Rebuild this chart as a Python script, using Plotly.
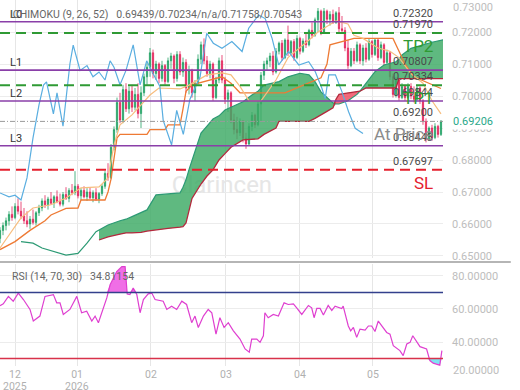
import plotly.graph_objects as go
import numpy as np

# ---------------- data ----------------
bar_open = [.6555,.6580,.6595,.6610,.6630,.6620,.6655,.6640,.6625,.6610,.6600,.6615,.6605,.6635,.6650,.6672,.6660,.6678,.6665,.6685,
            .6670,.6662,.6692,.6680,.6705,.6698,.6718,.6688,.6705,.6685,.6700,.6682,.6698,.6678,.6695,.6718,.6758,.6745,.6840,.6895,
            .6980,.6925,.7020,.6960,.7015,.6965,.7005,.6945,.7010,.7060,.7090,.7135,.7070,.7100,.7055,.7095,.7045,.7110,.7125,.7055,
            .7130,.7075,.7105,.7025,.7080,.7010,.7040,.7115,.7160,.7110,.7070,.7100,.6995,.7050,.7110,.7050,.6990,.7010,.6925,.6895,
            .6885,.6920,.6868,.6850,.6905,.6940,.6910,.6975,.7065,.7100,.7110,.7125,.7075,.7140,.7165,.7120,.7175,.7135,.7170,.7120,
            .7180,.7140,.7172,.7160,.7205,.7190,.7238,.7265,.7200,.7265,.7240,.7255,.7230,.7260,.7210,.7205,.7150,.7095,.7140,.7110,
            .7160,.7110,.7150,.7115,.7170,.7130,.7175,.7120,.7160,.7105,.7135,.7060,.7005,.7050,.6995,.7030,.6995,.7030,.7000,.6990,
            .7025,.6985,.6920,.6865,.6900,.6870,.6905,.6880]
bar_high = [.6590,.6605,.6620,.6640,.6655,.6665,.6680,.6670,.6650,.6640,.6625,.6645,.6640,.6660,.6680,.6690,.6685,.6700,.6690,.6705,
            .6695,.6700,.6715,.6712,.6725,.6765,.6725,.6712,.6718,.6712,.6715,.6705,.6712,.6700,.6725,.6765,.6790,.6850,.6905,.6995,
            .7010,.7035,.7040,.7030,.7035,.7025,.7040,.7030,.7070,.7105,.7150,.7145,.7110,.7105,.7110,.7100,.7120,.7135,.7130,.7140,
            .7140,.7120,.7115,.7095,.7085,.7050,.7130,.7170,.7180,.7125,.7110,.7105,.7060,.7120,.7128,.7060,.7020,.7015,.6945,.6935,
            .6930,.6925,.6885,.6915,.6950,.6945,.6985,.7075,.7110,.7120,.7135,.7140,.7150,.7170,.7175,.7180,.7220,.7175,.7178,.7190,
            .7185,.7180,.7200,.7210,.7230,.7245,.7275,.7270,.7275,.7270,.7265,.7270,.7265,.7278,.7250,.7215,.7175,.7150,.7150,.7170,
            .7165,.7160,.7165,.7180,.7175,.7180,.7180,.7170,.7165,.7145,.7140,.7070,.7060,.7055,.7040,.7035,.7040,.7040,.7030,.7035,
            .7030,.6990,.6930,.6905,.6910,.6915,.6910,.6925]
bar_low = [.6540,.6565,.6580,.6595,.6610,.6615,.6630,.6615,.6600,.6590,.6585,.6598,.6595,.6625,.6640,.6650,.6645,.6660,.6650,.6665,
           .6655,.6655,.6675,.6668,.6690,.6690,.6680,.6675,.6680,.6672,.6678,.6668,.6672,.6665,.6688,.6710,.6735,.6740,.6830,.6885,
           .6915,.6915,.6950,.6945,.6950,.6955,.6930,.6900,.7000,.7035,.7060,.7055,.7050,.7040,.7045,.7035,.7040,.7085,.7040,.7045,
           .7065,.7060,.7010,.7005,.6995,.6985,.7035,.7100,.7100,.7060,.7055,.6985,.6990,.7040,.7040,.6975,.6950,.6915,.6880,.6865,
           .6875,.6855,.6835,.6845,.6890,.6900,.6905,.6920,.7050,.7080,.7090,.7065,.7070,.7130,.7110,.7115,.7125,.7130,.7110,.7115,
           .7130,.7135,.7150,.7155,.7180,.7185,.7200,.7190,.7195,.7225,.7220,.7225,.7225,.7200,.7195,.7140,.7085,.7090,.7100,.7105,
           .7100,.7095,.7105,.7110,.7120,.7125,.7110,.7115,.7095,.7100,.7050,.6995,.6995,.6985,.6990,.6985,.6990,.6990,.6980,.6985,
           .6975,.6910,.6855,.6860,.6860,.6865,.6870,.6875]
bar_close = [.6580,.6595,.6610,.6630,.6620,.6655,.6640,.6625,.6610,.6600,.6615,.6605,.6635,.6650,.6672,.6660,.6678,.6665,.6685,.6670,
             .6662,.6692,.6680,.6705,.6698,.6718,.6688,.6705,.6685,.6700,.6682,.6698,.6678,.6695,.6718,.6758,.6745,.6840,.6895,.6980,
             .6925,.7020,.6960,.7015,.6965,.7005,.6945,.7010,.7060,.7090,.7135,.7070,.7100,.7055,.7095,.7045,.7110,.7125,.7055,.7130,
             .7075,.7105,.7025,.7080,.7010,.7040,.7115,.7160,.7110,.7070,.7100,.6995,.7050,.7110,.7050,.6990,.7010,.6925,.6895,.6885,
             .6920,.6868,.6850,.6905,.6940,.6910,.6975,.7065,.7100,.7110,.7125,.7075,.7140,.7165,.7120,.7175,.7135,.7170,.7120,.7180,
             .7140,.7172,.7160,.7205,.7190,.7238,.7265,.7200,.7265,.7240,.7255,.7230,.7260,.7210,.7205,.7150,.7095,.7140,.7110,.7160,
             .7110,.7150,.7115,.7170,.7130,.7175,.7120,.7160,.7105,.7135,.7060,.7005,.7050,.6995,.7030,.6995,.7030,.7000,.6990,.7025,
             .6985,.6920,.6865,.6900,.6870,.6905,.6880,.69206]

tenkan_x = [0, 3, 7, 11, 17, 22, 27, 33, 36, 38, 40, 44, 47, 50, 53, 60, 63, 69, 74, 77, 80, 83, 87, 89, 92, 96, 100, 103, 106, 112, 116, 118, 121, 126, 130, 133, 137, 141, 144, 147]
tenkan_v = [.6525,.6566,.6619,.6650,.6660,.6681,.6713,.6716,.6744,.6847,.6910,.6941,.6972,.7003,.7025,.7022,.7034,.7066,.7072,.7066,
            .7030,.6985,.6985,.7010,.7050,.7120,.7150,.7175,.7200,.7235,.7225,.7190,.7180,.7150,.7140,.7120,.7070,.7040,.6985,.69439]

kijun_x = [0, 5, 10, 15, 17, 22, 26, 27, 35, 36, 37, 38, 39, 40, 49, 50, 55, 56, 60, 61, 62, 64, 70, 74, 77, 80, 95, 100, 107, 109, 110, 118, 131, 133, 135, 138, 147]
kijun_v = [.6520,.6545,.6580,.6610,.6628,.6649,.6650,.6675,.6675,.6700,.6740,.6800,.6869,.6880,.6880,.6895,.6895,.6910,.6910,.6960,
           .7015,.7035,.7050,.7060,.7040,.7010,.7010,.7030,.7057,.7100,.7160,.7180,.7180,.7140,.7100,.7060,.70234]

chikou_x = [0, 3, 5, 7, 9, 11, 13, 14.5, 15.5, 17.8, 19, 21, 23.3, 24.4, 26.7, 29, 31, 33, 35, 36.7, 38, 40, 42, 44.4, 46.7, 48.9, 51, 53.3,
            54.4, 57.2, 58.9, 61.1, 63.3, 66.7, 68.9, 71.1, 74, 77.3, 80.7, 82.9, 86.2, 88.4, 90.7, 92.9, 96.2, 99.6, 102.9, 105.1, 107.3,
            108.4, 109.6, 111.8, 114, 116.2, 118.4, 121]
chikou_v = [.6697,.6685,.6690,.6675,.6744,.6869,.6972,.7034,.7044,.6944,.7010,.6906,.7100,.7159,.7080,.7095,.7060,.7075,.7050,.7110,
            .7090,.7035,.7080,.7160,.7035,.7110,.7070,.7030,.6924,.6847,.6955,.6880,.6990,.7060,.7196,.7165,.7149,.7170,.7139,.7212,
            .7253,.7242,.7180,.7097,.7139,.7097,.7107,.7076,.7024,.6992,.7066,.7066,.7013,.6951,.6899,.6883]

span_a_lead_x = [7, 11, 14, 18, 22, 26, 29, 32, 33]
span_a_lead_v = [.6545,.6540,.6525,.6514,.6503,.6508,.6540,.6576,.6581]

cloud_x = [33, 36, 40, 42, 44, 47, 49, 52, 56, 60, 61, 62, 63, 64, 67, 69, 71, 73, 75, 77, 81, 84, 86, 88, 92, 93, 96, 100, 103, 105,
           107, 109, 111, 112, 113, 116, 119, 120, 122, 125, 128, 132, 133, 134, 137, 141, 144, 147.7]
span_a = [.6581,.6597,.6610,.6615,.6623,.6635,.6644,.6691,.6694,.6697,.6715,.6738,.6770,.6800,.6884,.6906,.6928,.6938,.6956,.6965,
          .6982,.7003,.7015,.7034,.7042,.7045,.7060,.7071,.7066,.7045,.7013,.6995,.6978,.6975,.6975,.6985,.7005,.7015,.7040,.7076,
          .7097,.7107,.7115,.7128,.7149,.7160,.7168,.71758]
span_b = [.6550,.6560,.6568,.6572,.6572,.6574,.6578,.6582,.6586,.6590,.6592,.6603,.6640,.6680,.6725,.6750,.6769,.6800,.6820,.6840,
          .6863,.6866,.6866,.6880,.6900,.6921,.6921,.6921,.6921,.6930,.6940,.6952,.6963,.6990,.7005,.7010,.7013,.7015,.7025,.7025,
          .7025,.7025,.70543,.70543,.70543,.70543,.70543,.70543]

rsi_x = [0, 1.1, 2.8, 4.4, 6.1, 7.8, 10, 11.1, 13.3, 15, 17.8, 18.9, 20, 21.1, 23.3, 25.6, 27.2, 28.9, 30.6, 31.7, 32.8, 35.6, 36.7,
         38.9, 40.6, 41.7, 42.4, 43.3, 44.4, 45.6, 46.7, 47.8, 49.4, 50.6, 51.7, 54.4, 55.6, 57.2, 58.9, 60.6, 62.2, 63.9, 65, 66.1,
         67.8, 69.4, 70.6, 72, 73.3, 74.7, 76.1, 77.8, 80, 81.7, 83.1, 83.9, 85.6, 86.7, 87.8, 88.3, 89.4, 91.1, 92.8, 94.7, 96.1,
         97.8, 98.9, 100.6, 102.8, 103.9, 104.7, 105.6, 106.7, 107.8, 109.4, 110.6, 111.7, 113.9, 114.4, 116.1, 116.9, 117.8, 118.9,
         120, 121.7, 122.8, 123.9, 125, 126.1, 127.2, 128.9, 130, 131.1, 133.3, 134.4, 135.6, 136.7, 137.6, 138.9, 140, 142.2, 143.3,
         144.4, 145.6, 146.6, 147.3]
rsi_v = [62.0, 63.1, 67.6, 64.7, 69.6, 65.7, 59.7, 52.7, 55.7, 67.6, 68.7, 63.7, 63.7, 56.7, 59.7, 67.6, 57.7, 58.7, 52.7, 55.7, 51.7,
         66.7, 74.6, 82.6, 85.6, 85.6, 69.1, 68.7, 72.6, 68.7, 57.7, 65.7, 69.1, 69.6, 65.7, 64.7, 59.7, 61.7, 59.7, 64.7, 62.7, 51.7,
         55.7, 48.8, 55.7, 59.7, 57.7, 44.8, 54.7, 48.8, 51.7, 46.8, 41.8, 35.8, 33.8, 41.8, 41.8, 39.8, 43.8, 57.7, 54.7, 56.7, 55.7,
         63.7, 62.7, 63.1, 60.7, 56.7, 62.1, 60.7, 54.7, 60.3, 60.3, 56.3, 62.1, 59.1, 61.7, 60.3, 61.7, 49.7, 46.8, 48.8, 42.8, 47.8,
         47.2, 49.7, 49.7, 46.4, 52.7, 49.7, 45.8, 44.8, 37.8, 34.8, 31.8, 38.8, 39.8, 43.8, 39.8, 37.2, 35.8, 28.8, 27.2, 26.8, 26.0,
         34.81154]

level_names = ["L0", "L1", "L2", "L3"]
level_values = [0.72320, 0.70807, 0.69844, 0.68443]
tp_names = ["TP2", "TP1"]
tp_values = [0.71970, 0.70334]
sl_value = 0.67697
at_price_value = 0.69206
at_price_label = "0.69200"

month_pos = [5, 25.7, 50.3, 75.3, 100, 124.3]
month_text = ["12", "01", "02", "03", "04", "05"]
year_pos = [5, 25.7]
year_text = ["2025", "2026"]
price_ticks = [0.65, 0.66, 0.67, 0.68, 0.69, 0.70, 0.71, 0.72]
rsi_ticks = [40, 60, 80]

# ---------------- colours ----------------
PURPLE = "#8a3fa8"
GREEN_DASH = "#2f9a34"
RED_DASH = "#e5202e"
GREY_TXT = "#bdbdbd"

fig = go.Figure()

# watermark (behind everything)
fig.add_trace(go.Scatter(x=[74], y=[0.6715], mode="text", text=["Clarincen"],
                         textfont=dict(size=24, color="#e6e6e6", family="Roboto"),
                         hoverinfo="skip", xaxis="x", yaxis="y"))

# cloud
a = np.array(span_a); b = np.array(span_b)
fig.add_trace(go.Scatter(x=cloud_x, y=b, mode="lines", line=dict(width=0), hoverinfo="skip"))
fig.add_trace(go.Scatter(x=cloud_x, y=np.maximum(a, b), mode="lines", line=dict(width=0),
                         fill="tonexty", fillcolor="rgba(60,170,100,0.82)", hoverinfo="skip"))
fig.add_trace(go.Scatter(x=cloud_x, y=b, mode="lines", line=dict(width=0), hoverinfo="skip"))
fig.add_trace(go.Scatter(x=cloud_x, y=np.minimum(a, b), mode="lines", line=dict(width=0),
                         fill="tonexty", fillcolor="rgba(240,80,100,0.85)", hoverinfo="skip"))
fig.add_trace(go.Scatter(x=span_a_lead_x + cloud_x[1:], y=span_a_lead_v + span_a[1:], mode="lines",
                         line=dict(color="#2c9a74", width=1.2), hoverinfo="skip"))
fig.add_trace(go.Scatter(x=cloud_x, y=span_b, mode="lines", line=dict(color="#b3283c", width=1.3), hoverinfo="skip"))

# candles
fig.add_trace(go.Candlestick(x=list(range(len(bar_close))), open=bar_open, high=bar_high, low=bar_low, close=bar_close,
                             increasing=dict(line=dict(color="#23a266", width=0.8), fillcolor="#23a266"),
                             decreasing=dict(line=dict(color="#e3245c", width=0.8), fillcolor="#e3245c"),
                             whiskerwidth=0, hoverinfo="skip"))

# ichimoku lines
fig.add_trace(go.Scatter(x=kijun_x, y=kijun_v, mode="lines", line=dict(color="#ee7a34", width=1.3), hoverinfo="skip"))
fig.add_trace(go.Scatter(x=tenkan_x, y=tenkan_v, mode="lines", line=dict(color="#f7bd7e", width=1.2), hoverinfo="skip"))
fig.add_trace(go.Scatter(x=chikou_x, y=chikou_v, mode="lines", line=dict(color="#5aaee0", width=1.2), hoverinfo="skip"))

# RSI
r = np.array(rsi_v)
fig.add_trace(go.Scatter(x=rsi_x, y=[70] * len(rsi_x), mode="lines", line=dict(width=0), yaxis="y2", hoverinfo="skip"))
fig.add_trace(go.Scatter(x=rsi_x, y=np.maximum(r, 70), mode="lines", line=dict(width=0), fill="tonexty",
                         fillcolor="#f06ee6", yaxis="y2", hoverinfo="skip"))
fig.add_trace(go.Scatter(x=rsi_x, y=[30] * len(rsi_x), mode="lines", line=dict(width=0), yaxis="y2", hoverinfo="skip"))
fig.add_trace(go.Scatter(x=rsi_x, y=np.minimum(r, 30), mode="lines", line=dict(width=0), fill="tonexty",
                         fillcolor="#7fe3f2", yaxis="y2", hoverinfo="skip"))
fig.add_trace(go.Scatter(x=rsi_x, y=rsi_v, mode="lines", line=dict(color="#df3fd0", width=1.2), yaxis="y2", hoverinfo="skip"))

shapes = []
for v in level_values:
    shapes.append(dict(type="line", xref="paper", x0=0, x1=1, yref="y", y0=v, y1=v, line=dict(color=PURPLE, width=1.6)))
for v in tp_values:
    shapes.append(dict(type="line", xref="paper", x0=0, x1=1, yref="y", y0=v, y1=v,
                       line=dict(color=GREEN_DASH, width=2, dash="10px,6px")))
shapes.append(dict(type="line", xref="paper", x0=0, x1=1, yref="y", y0=sl_value, y1=sl_value,
                   line=dict(color=RED_DASH, width=2, dash="10px,6px")))
shapes.append(dict(type="line", xref="paper", x0=0, x1=1, yref="y", y0=at_price_value, y1=at_price_value,
                   line=dict(color="#9a9a9a", width=1, dash="5px,2px,1px,2px")))
shapes.append(dict(type="line", xref="paper", x0=0, x1=1, yref="y2", y0=70, y1=70, line=dict(color="#33408c", width=1.5)))
shapes.append(dict(type="line", xref="paper", x0=0, x1=1, yref="y2", y0=30, y1=30, line=dict(color="#d8324a", width=1.5)))
# panel separator
shapes.append(dict(type="line", xref="paper", x0=0, x1=1.153, yref="paper", y0=0.2842, y1=0.2842,
                   line=dict(color="#9c9c9c", width=1.3)))

ann = []
NUMF = dict(size=11, color="#4a4a4a", family="Roboto")
BIGF = 17
lab_x = 0.982
for name, v in zip(level_names, level_values):
    ann.append(dict(x=0.018, xref="paper", y=v, yref="y", text=name, showarrow=False, xanchor="left", yanchor="bottom",
                    yshift=-1, font=dict(size=11, color="#333", family="Roboto")))
# numbers above lines
for v, t in [(level_values[0], "0.72320"), (tp_values[0], "0.71970"), (level_values[1], "0.70807"),
             (tp_values[1], "0.70334"), (level_values[2], "0.69844"), (at_price_value, at_price_label),
             (level_values[3], "0.68443"), (sl_value, "0.67697")]:
    ann.append(dict(x=lab_x, xref="paper", y=v, yref="y", text=t, showarrow=False, xanchor="right", yanchor="bottom",
                    yshift=0, font=NUMF))
ann.append(dict(x=lab_x, xref="paper", y=tp_values[0], yref="y", text="TP2", showarrow=False, xanchor="right",
                yanchor="top", yshift=-1, font=dict(size=BIGF, color="#2f9a34", family="Roboto")))
ann.append(dict(x=lab_x, xref="paper", y=tp_values[1], yref="y", text="TP1", showarrow=False, xanchor="right",
                yanchor="top", yshift=-1, font=dict(size=BIGF, color="#2f9a34", family="Roboto")))
ann.append(dict(x=lab_x, xref="paper", y=at_price_value, yref="y", text="At Price", showarrow=False, xanchor="right",
                yanchor="top", yshift=-1, font=dict(size=BIGF, color="#8c8c8c", family="Roboto")))
ann.append(dict(x=lab_x, xref="paper", y=sl_value, yref="y", text="SL", showarrow=False, xanchor="right",
                yanchor="top", yshift=-1, font=dict(size=BIGF, color="#e5202e", family="Roboto")))
ann.append(dict(x=0.018, xref="paper", y=level_values[0], yref="y", yanchor="bottom", yshift=-1, xanchor="left",
                showarrow=False, text="ICHIMOKU (9, 26, 52)   0.69439/0.70234/n/a/0.71758/0.70543",
                font=dict(size=10.5, color="#666", family="Roboto")))
ann.append(dict(x=0.022, xref="paper", y=87, yref="y2", yanchor="top", yshift=-4, xanchor="left", showarrow=False,
                text="RSI (14, 70, 30)   34.81154", font=dict(size=10.5, color="#666", family="Roboto")))
ann.append(dict(x=1, xref="paper", xshift=8, xanchor="left", y=at_price_value, yref="y", showarrow=False,
                text="0.69206", bgcolor="white", font=dict(size=11, color="#2aa88a", family="Roboto")))
ann.append(dict(x=1, xref="paper", xshift=8, xanchor="left", y=1, yref="paper", yanchor="top", yshift=1, showarrow=False,
                text="0.73000", font=dict(size=11, color=GREY_TXT, family="Roboto")))
ann.append(dict(x=1, xref="paper", xshift=8, xanchor="left", y=0, yref="paper", yanchor="middle", yshift=-4,
                showarrow=False, text="20.00000", font=dict(size=11, color=GREY_TXT, family="Roboto")))
for xp, t in zip(year_pos, year_text):
    ann.append(dict(x=xp, xref="x", y=0, yref="paper", yanchor="top", yshift=-11.5, showarrow=False, text=t,
                    font=dict(size=10.5, color="#b0b0b0", family="Roboto")))

fig.update_layout(
    width=520, height=390, margin=dict(l=0, r=77, t=0, b=24, autoexpand=False),
    paper_bgcolor="white", plot_bgcolor="white", showlegend=False,
    font=dict(family="Roboto"), boxgap=0.4,
    xaxis=dict(range=[0, 147.67], tickvals=month_pos, ticktext=month_text, showgrid=True, gridcolor="#e6e6e6",
               zeroline=False, anchor="y2", rangeslider=dict(visible=False), ticks="", automargin=False,
               tickfont=dict(size=10.5, color="#b0b0b0"), showline=False),
    yaxis=dict(domain=[0.2951, 1], range=[0.649375, 0.73], side="right", tickvals=price_ticks, automargin=False,
               ticktext=[f"{v:.5f}" for v in price_ticks], showgrid=True, gridcolor="#ececec", zeroline=False,
               tickfont=dict(size=11, color=GREY_TXT), ticklabelstandoff=8, ticks=""),
    yaxis2=dict(domain=[0, 0.2787], range=[25.5, 87.2], side="right", tickvals=rsi_ticks, automargin=False,
                ticktext=[f"{v:.5f}" for v in rsi_ticks], showgrid=True, gridcolor="#ececec", zeroline=False,
                tickfont=dict(size=11, color=GREY_TXT), ticklabelstandoff=8, ticks=""),
    shapes=shapes, annotations=ann,
)

fig.write_html("out.html")
